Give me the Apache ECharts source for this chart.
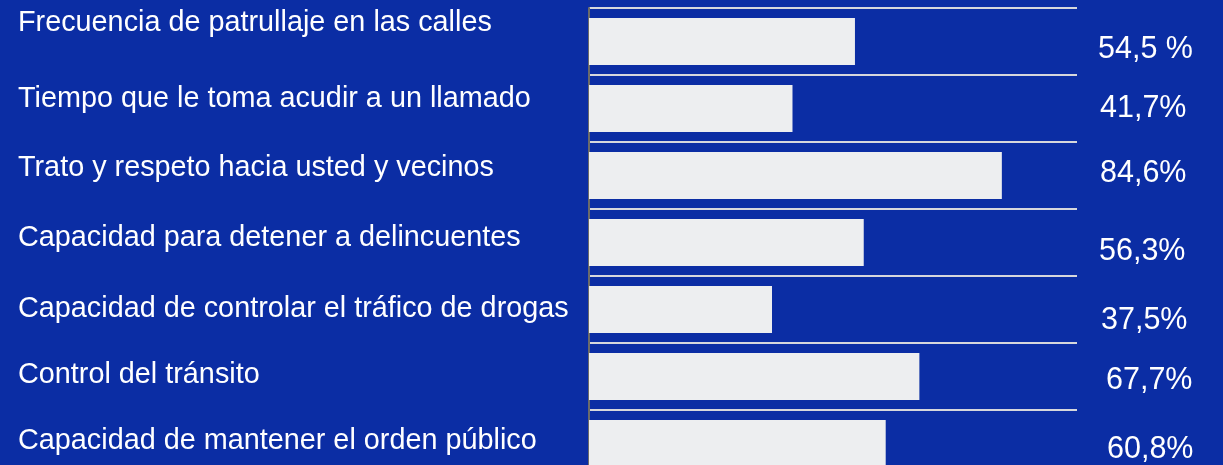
<!DOCTYPE html>
<html>
<head>
<meta charset="utf-8">
<script src="https://cdn.jsdelivr.net/npm/echarts@6/dist/echarts.min.js"></script>
<style>
  html, body { margin: 0; padding: 0; background: #0b2da4; }
  #chart { width: 1223px; height: 465px; }
</style>
</head>
<body>
<div id="chart"></div>
<script>
// Aspectos evaluados (orden de arriba hacia abajo)
const categories = [
  'Frecuencia de patrullaje en las calles',
  'Tiempo que le toma acudir a un llamado',
  'Trato y respeto hacia usted y vecinos',
  'Capacidad para detener a delincuentes',
  'Capacidad de controlar el tráfico de drogas',
  'Control del tránsito',
  'Capacidad de mantener el orden público'
];
// Porcentaje de evaluación por aspecto
const values = [54.5, 41.7, 84.6, 56.3, 37.5, 67.7, 60.8];
// Sufijo de cada etiqueta de porcentaje
const suffixes = [' %', '%', '%', '%', '%', '%', '%'];

// Ajustes de diseño de las etiquetas (px): desplazamiento vertical y sangría
const leftShift = [-18.5, -9.5, -7, -4, -0.5, -1.5, -2.5];
const rightShift = [8.5, 0.5, -1.5, 9.5, 11.5, 4.5, 6.5];
const rightIndent = [0, 2, 2, 1, 3, 8, 9];

const FONT = '"Liberation Sans", Arial, sans-serif';

function vPad(shift, left) {
  // desplaza el texto moviendo el relleno superior/inferior
  return shift >= 0 ? [2 * shift, 0, 0, left || 0] : [0, 0, -2 * shift, left || 0];
}

const leftRich = {};
const rightRich = {};
categories.forEach((c, i) => {
  leftRich['l' + i] = { fontFamily: FONT, fontSize: 28.8, color: '#ffffff', padding: vPad(leftShift[i]) };
  rightRich['r' + i] = { fontFamily: FONT, fontSize: 30.5, color: '#ffffff', padding: vPad(rightShift[i], rightIndent[i]) };
});

const chart = echarts.init(document.getElementById('chart'));
chart.setOption({
  backgroundColor: '#0b2da4',
  animation: false,
  grid: { left: 589, top: 8, width: 488, height: 469, outerBoundsMode: 'none' },
  xAxis: {
    type: 'value', min: 0, max: 100, show: false
  },
  yAxis: [
    {
      type: 'category',
      data: categories,
      inverse: true,
      axisLine: { show: true, lineStyle: { color: '#6b6b6b', width: 2 } },
      axisTick: { show: false },
      splitLine: { show: true, lineStyle: { color: '#d6d7dc', width: 2 } },
      axisLabel: {
        interval: 0,
        align: 'left',
        margin: 571,
        formatter: (v, i) => '{l' + i + '|' + v + '}',
        rich: leftRich
      }
    },
    {
      type: 'category',
      data: categories,
      inverse: true,
      position: 'right',
      axisLine: { show: false },
      axisTick: { show: false },
      splitLine: { show: false },
      axisLabel: {
        interval: 0,
        align: 'left',
        margin: 21,
        formatter: (v, i) => '{r' + i + '|' + values[i].toFixed(1).replace('.', ',') + suffixes[i] + '}',
        rich: rightRich
      }
    }
  ],
  series: [{
    type: 'bar',
    data: values,
    barCategoryGap: '30%',
    itemStyle: { color: '#edeef0' },
    z: 3
  }]
});
</script>
</body>
</html>
